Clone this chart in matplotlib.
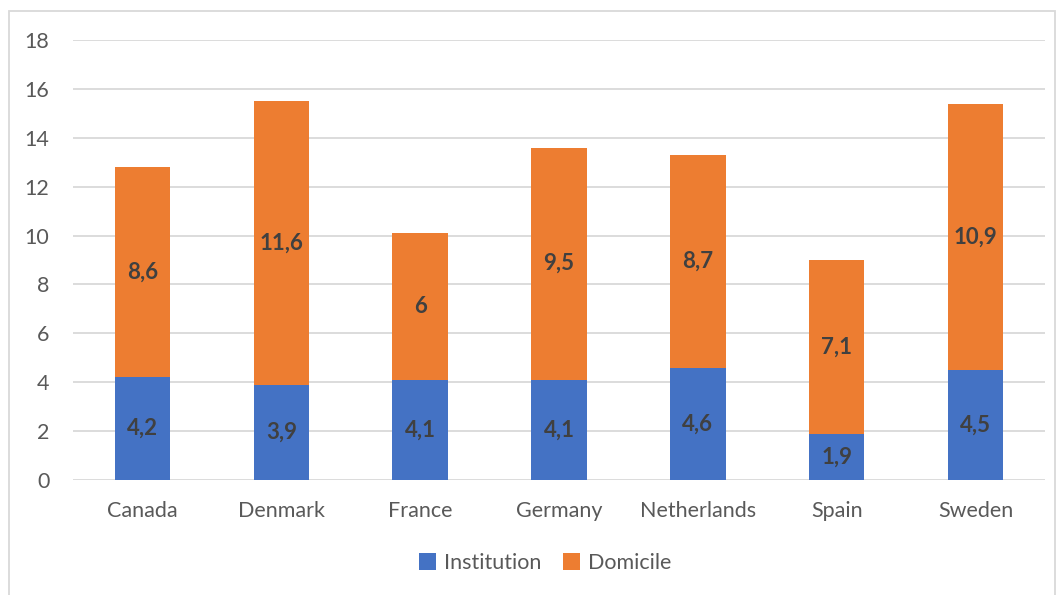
import matplotlib.pyplot as plt
from matplotlib.patches import Rectangle

countries = ['Canada', 'Denmark', 'France', 'Germany', 'Netherlands', 'Spain', 'Sweden']
institution = [4.2, 3.9, 4.1, 4.1, 4.6, 1.9, 4.5]
domicile = [8.6, 11.6, 6, 9.5, 8.7, 7.1, 10.9]
yticks = [0, 2, 4, 6, 8, 10, 12, 14, 16, 18]

plt.rcParams['font.family'] = ['Lato', 'DejaVu Sans']

def fmt(v):
    s = ('%g' % v)
    return s.replace('.', ',')

fig = plt.figure(figsize=(10.59, 5.95), dpi=100)
ax = fig.add_axes([73 / 1059, 1 - 480 / 595, (1045 - 73) / 1059, 440 / 595])

x = list(range(len(countries)))
b1 = ax.bar(x, institution, width=0.4, color='#4472C4', label='Institution', zorder=3)
b2 = ax.bar(x, domicile, width=0.4, bottom=institution, color='#ED7D31', label='Domicile', zorder=3)

for i in x:
    ax.text(i, institution[i] / 2, fmt(institution[i]), ha='center', va='center',
            fontsize=16, fontweight='bold', color='#404040', zorder=4)
    ax.text(i, institution[i] + domicile[i] / 2, fmt(domicile[i]), ha='center', va='center',
            fontsize=16, fontweight='bold', color='#404040', zorder=4)

ax.set_xlim(-0.5, len(countries) - 0.5)
ax.set_ylim(0, 18)
ax.set_yticks(yticks)
ax.set_xticks(x)
ax.set_xticklabels(countries)
ax.tick_params(axis='both', length=0, labelsize=15.5, labelcolor='#595959')
ax.tick_params(axis='y', pad=17)
ax.tick_params(axis='x', pad=15)
ax.grid(axis='y', color='#D9D9D9', linewidth=1.3, zorder=0)
for s in ax.spines.values():
    s.set_visible(False)

leg = fig.legend(handles=[b1, b2], loc='center', bbox_to_anchor=(545 / 1059, 1 - 563 / 595),
                 ncol=2, frameon=False, fontsize=15.5, handlelength=0.8, handleheight=0.8,
                 handletextpad=0.35, columnspacing=1.0)
for t in leg.get_texts():
    t.set_color('#595959')

fig.patches.append(Rectangle((9 / 1059, -0.1), (1055 - 9) / 1059, 1.1 - 11 / 595,
                             transform=fig.transFigure, fill=False,
                             edgecolor='#D9D9D9', linewidth=1.3))

fig.savefig('out.png', dpi=100)
